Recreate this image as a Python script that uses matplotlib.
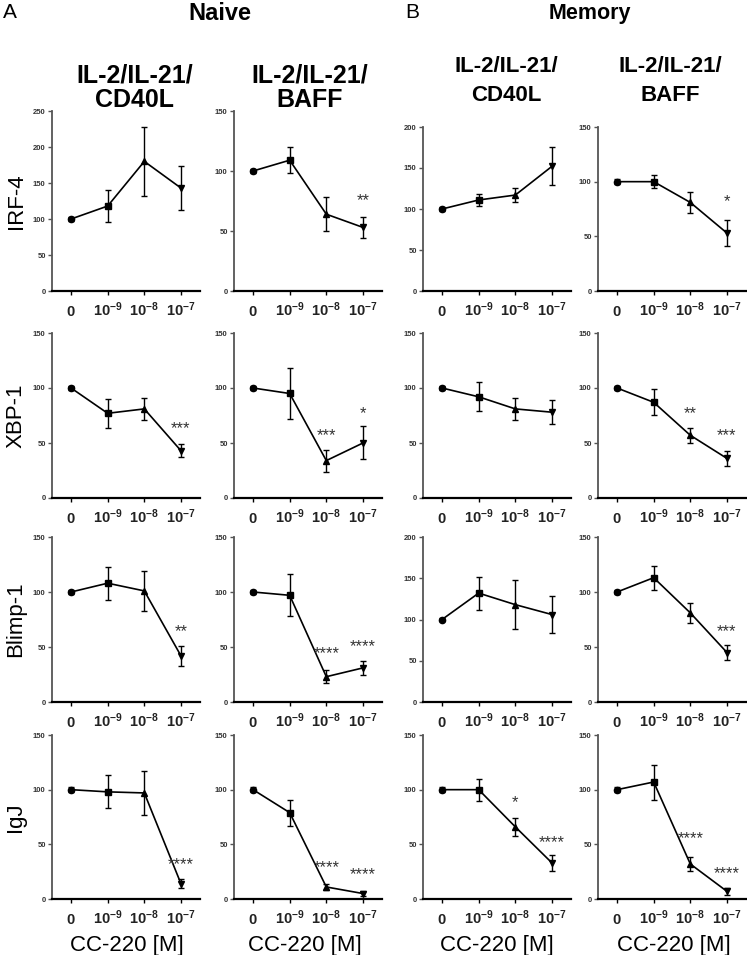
import matplotlib
matplotlib.use('Agg')
import matplotlib.pyplot as plt
from matplotlib import font_manager

# ---------------- data ----------------
dose_labels = ['0', '10^{-9}', '10^{-8}', '10^{-7}']
row_labels = ['IRF-4', 'XBP-1', 'Blimp-1', 'IgJ']
col_titles = [('IL-2/IL-21/', 'CD40L'), ('IL-2/IL-21/', 'BAFF'),
              ('IL-2/IL-21/', 'CD40L'), ('IL-2/IL-21/', 'BAFF')]
group_titles = ['Naive', 'Memory']
panel_letters = ['A', 'B']
xlabel = 'CC-220 [M]'

# means per row: [naive CD40L, naive BAFF, memory CD40L, memory BAFF]
irf4_mean = [[100, 118, 180, 143], [100, 109, 64, 53], [100, 111, 117, 152], [100, 100, 81, 53]]
irf4_sem = [[3, 22, 48, 31], [2, 11, 14, 8.5], [2, 7, 9, 23], [2, 6, 10, 12]]
irf4_stars = [['', '', '', ''], ['', '', '', '**'], ['', '', '', ''], ['', '', '', '*']]
irf4_star_y = [[0, 0, 0, 0], [0, 0, 0, 75], [0, 0, 0, 0], [0, 0, 0, 82]]

xbp1_mean = [[100, 77, 81, 43], [100, 95, 34, 50], [100, 92, 81, 78], [100, 87, 57, 36]]
xbp1_sem = [[2, 13, 10, 6], [2, 23, 10, 15], [2, 13, 10, 11], [2, 12, 7, 7]]
xbp1_stars = [['', '', '', '***'], ['', '', '***', '*'], ['', '', '', ''], ['', '', '**', '***']]
xbp1_star_y = [[0, 0, 0, 63], [0, 0, 57, 77], [0, 0, 0, 0], [0, 0, 77, 57]]

blimp1_mean = [[100, 108, 101, 42], [100, 97, 23, 31], [100, 132, 118, 106], [100, 113, 81, 45]]
blimp1_sem = [[2, 15, 18, 9], [2, 19, 6, 6], [2, 20, 30, 22], [2, 11, 9, 7]]
blimp1_stars = [['', '', '', '**'], ['', '', '****', '****'], ['', '', '', ''], ['', '', '', '***']]
blimp1_star_y = [[0, 0, 0, 64], [0, 0, 44, 50], [0, 0, 0, 0], [0, 0, 0, 64]]

igj_mean = [[100, 98, 97, 14], [100, 79, 11, 5], [100, 100, 66, 33], [100, 107, 32, 7]]
igj_sem = [[2, 15, 20, 4], [2, 12, 3, 2], [2, 10, 8, 7], [2, 16, 6, 3]]
igj_stars = [['', '', '', '****'], ['', '', '****', '****'], ['', '', '*', '****'], ['', '', '****', '****']]
igj_star_y = [[0, 0, 0, 31], [0, 0, 29, 22], [0, 0, 88, 52], [0, 0, 55, 23]]

ymax = [[250, 150, 200, 150], [150, 150, 150, 150], [150, 150, 200, 150], [150, 150, 150, 150]]

means = [irf4_mean, xbp1_mean, blimp1_mean, igj_mean]
sems = [irf4_sem, xbp1_sem, blimp1_sem, igj_sem]
stars = [irf4_stars, xbp1_stars, blimp1_stars, igj_stars]
star_ys = [irf4_star_y, xbp1_star_y, blimp1_star_y, igj_star_y]

# ---------------- fonts ----------------
names = {f.name for f in font_manager.fontManager.ttflist}
NARROW = 'Liberation Sans Narrow' if 'Liberation Sans Narrow' in names else 'Liberation Sans'
plt.rcParams['font.family'] = ['Liberation Sans', 'DejaVu Sans']
plt.rcParams['mathtext.fontset'] = 'custom'
plt.rcParams['mathtext.rm'] = NARROW + ':bold'
plt.rcParams['mathtext.bf'] = NARROW + ':bold'
plt.rcParams['mathtext.it'] = NARROW + ':bold'
plt.rcParams['mathtext.default'] = 'rm'

W, H = 747, 955
fig = plt.figure(figsize=(W / 100, H / 100), dpi=100)

col_lefts = [52, 234, 423, 598]
ax_w = 148
row_tops = [[111, 111, 127, 127], [333] * 4, [537] * 4, [735] * 4]
row_bottoms = [291, 498, 702, 899]
markers = ['o', 's', '^', 'v']
x = list(range(4))

for r in range(4):
    for c in range(4):
        top = row_tops[r][c]
        bot = row_bottoms[r]
        ax = fig.add_axes([col_lefts[c] / W, 1 - bot / H, ax_w / W, (bot - top) / H])
        m = means[r][c]
        s = sems[r][c]
        ax.plot(x, m, color='black', lw=1.2, zorder=3, clip_on=False)
        ax.errorbar(x, m, yerr=s, fmt='none', ecolor='black', elinewidth=1.0,
                    capsize=2.2, capthick=1.0, zorder=3, clip_on=False)
        for i in range(4):
            ax.plot(x[i], m[i], marker=markers[i], ms=4.5, color='black',
                    zorder=4, clip_on=False)
            if stars[r][c][i]:
                ax.text(x[i], star_ys[r][c][i], stars[r][c][i], ha='center', va='center',
                        fontsize=12, color='#333333')
        ax.set_xlim(-0.52, 3.52)
        ax.set_ylim(0, ymax[r][c])
        ax.set_yticks(range(0, ymax[r][c] + 1, 50))
        ax.set_yticklabels([str(v) for v in range(0, ymax[r][c] + 1, 50)],
                           fontsize=5.5, fontweight='bold', family=NARROW, color='#333333')
        ax.set_xticks(x, ['$' + d + '$' for d in dose_labels], va='baseline',
                      fontsize=10.5, color='#222222')
        ax.tick_params(axis='x', length=3, width=1, pad=15, color='black')
        ax.tick_params(axis='y', length=3, width=1, pad=1.5, color='#555555')
        for sp in ['top', 'right']:
            ax.spines[sp].set_visible(False)
        ax.spines['left'].set_color('#555555')
        ax.spines['left'].set_linewidth(1.3)
        ax.spines['bottom'].set_color('black')
        ax.spines['bottom'].set_linewidth(1.6)
        ax.patch.set_alpha(0)

# row labels
for r in range(4):
    yc = (row_tops[r][0] + row_bottoms[r]) / 2
    fig.text(16 / W, 1 - yc / H, row_labels[r], rotation=90, ha='center', va='center',
             fontsize=16)

# column titles
title_x = [135, 310, 506, 670]
line1_y = [75.5, 75.5, 66.5, 66.5]
line2_y = [100, 100, 95.5, 95.5]
title_fs = [18, 18, 16, 16]
for c in range(4):
    fig.text(title_x[c] / W, 1 - line1_y[c] / H, col_titles[c][0], ha='center', va='center',
             fontsize=title_fs[c], fontweight='bold')
    fig.text(title_x[c] / W, 1 - line2_y[c] / H, col_titles[c][1], ha='center', va='center',
             fontsize=title_fs[c], fontweight='bold')

# group titles & panel letters
fig.text(220 / W, 1 - 13.5 / H, group_titles[0], ha='center', va='center', fontsize=17,
         fontweight='bold')
fig.text(590 / W, 1 - 13.5 / H, group_titles[1], ha='center', va='center', fontsize=15.5,
         fontweight='bold')
fig.text(10 / W, 1 - 12.5 / H, panel_letters[0], ha='center', va='center', fontsize=15)
fig.text(412 / W, 1 - 12.5 / H, panel_letters[1], ha='center', va='center', fontsize=15)

# x labels
xl_x = [127, 305, 497, 674]
for c in range(4):
    fig.text(xl_x[c] / W, 1 - 945 / H, xlabel, ha='center', va='center', fontsize=16)

fig.savefig('out.png', dpi=100, facecolor='white')
